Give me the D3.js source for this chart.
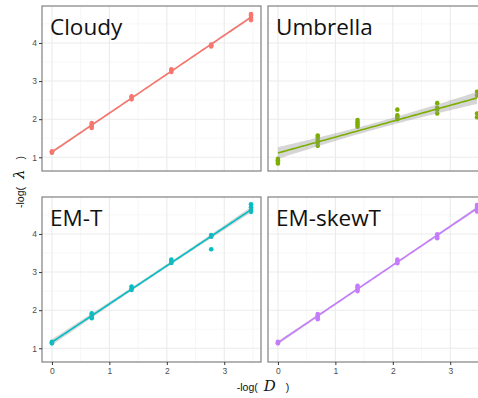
<!DOCTYPE html>
<html>
<head>
<meta charset="utf-8">
<script src="https://cdn.jsdelivr.net/npm/d3@7"></script>
<style>
  body { margin: 0; background: #fff; }
  svg { display: block; }
</style>
</head>
<body>
<svg id="chart" width="478" height="398"></svg>
<script>
// -log(D) positions of the replicate groups
const xLevels = [0, 0.693, 1.386, 2.079, 2.773, 3.466];

const facets = ['Cloudy', 'Umbrella', 'EM-T', 'EM-skewT'];
const colors = ['#F8766D', '#7CAE00', '#00BFC4', '#C77CFF'];

// replicate values of -log(lambda) per x level, one list per facet
const cloudyVals = [
    [1.12, 1.14, 1.16],
    [1.77, 1.82, 1.86, 1.90],
    [2.52, 2.56, 2.60],
    [3.24, 3.28, 3.31],
    [3.91, 3.94, 3.96],
    [4.60, 4.66, 4.72, 4.76]
];
const umbrellaVals = [
    [0.84, 0.88, 0.92, 0.96],
    [1.30, 1.38, 1.45, 1.52, 1.57],
    [1.80, 1.86, 1.92, 1.98],
    [2.00, 2.05, 2.10, 2.25],
    [2.15, 2.25, 2.30, 2.42],
    [2.05, 2.15, 2.62, 2.72]
];
const emtVals = [
    [1.13, 1.15, 1.17],
    [1.79, 1.84, 1.88, 1.92],
    [2.53, 2.57, 2.62],
    [3.24, 3.28, 3.33],
    [3.60, 3.93, 3.95, 3.97],
    [4.58, 4.63, 4.70, 4.78]
];
const emskewVals = [
    [1.13, 1.15, 1.17],
    [1.76, 1.81, 1.86, 1.90],
    [2.50, 2.55, 2.60, 2.64],
    [3.23, 3.28, 3.33],
    [3.89, 3.94, 3.99],
    [4.59, 4.65, 4.71, 4.76]
];
const facetVals = [cloudyVals, umbrellaVals, emtVals, emskewVals];

const xTicks = [0, 1, 2, 3];
const yTicks = [1, 2, 3, 4];

const svg = d3.select('#chart');
const panelW = 219, panelH = 165;
const panelX = [42, 268];
const panelY = [6, 197];

const x = d3.scaleLinear().domain([-0.173, 3.64]).range([0, panelW]);
const y = d3.scaleLinear().domain([0.64, 4.97]).range([panelH, 0]);

// simple least squares fit with 95% band
function fit(points) {
    const n = points.length;
    const mx = d3.mean(points, d => d[0]);
    const my = d3.mean(points, d => d[1]);
    const sxx = d3.sum(points, d => (d[0] - mx) ** 2);
    const sxy = d3.sum(points, d => (d[0] - mx) * (d[1] - my));
    const b = sxy / sxx;
    const a = my - b * mx;
    const sse = d3.sum(points, d => (d[1] - a - b * d[0]) ** 2);
    const s = Math.sqrt(sse / (n - 2));
    const t = 2.07;
    const xs = d3.range(0, 81).map(i => i / 80 * 3.466);
    return xs.map(xv => {
        const yhat = a + b * xv;
        const se = s * Math.sqrt(1 / n + (xv - mx) ** 2 / sxx);
        return { x: xv, y: yhat, lo: yhat - t * se, hi: yhat + t * se };
    });
}

facets.forEach((name, i) => {
    const col = i % 2, row = Math.floor(i / 2);
    const g = svg.append('g').attr('transform', `translate(${panelX[col]},${panelY[row]})`);
    const clipId = 'clip' + i;
    g.append('clipPath').attr('id', clipId)
        .append('rect').attr('width', panelW).attr('height', panelH);

    g.append('rect').attr('width', panelW).attr('height', panelH).attr('fill', '#fff');

    // minor grid
    [0.5, 1.5, 2.5, 3.5].forEach(v => {
        g.append('line').attr('x1', x(v)).attr('x2', x(v)).attr('y1', 0).attr('y2', panelH)
            .attr('stroke', '#f2f2f2').attr('stroke-width', 0.6);
    });
    [1.5, 2.5, 3.5, 4.5].forEach(v => {
        g.append('line').attr('y1', y(v)).attr('y2', y(v)).attr('x1', 0).attr('x2', panelW)
            .attr('stroke', '#f2f2f2').attr('stroke-width', 0.6);
    });
    // major grid
    xTicks.forEach(v => {
        g.append('line').attr('x1', x(v)).attr('x2', x(v)).attr('y1', 0).attr('y2', panelH)
            .attr('stroke', '#ebebeb').attr('stroke-width', 1.1);
    });
    yTicks.forEach(v => {
        g.append('line').attr('y1', y(v)).attr('y2', y(v)).attr('x1', 0).attr('x2', panelW)
            .attr('stroke', '#ebebeb').attr('stroke-width', 1.1);
    });

    const pts = [];
    facetVals[i].forEach((vals, k) => vals.forEach(v => pts.push([xLevels[k], v])));

    const plot = g.append('g').attr('clip-path', `url(#${clipId})`);
    plot.selectAll('circle').data(pts).enter().append('circle')
        .attr('cx', d => x(d[0])).attr('cy', d => y(d[1])).attr('r', 2.3)
        .attr('fill', colors[i]);

    const band = fit(pts);
    plot.append('path').datum(band)
        .attr('d', d3.area().x(d => x(d.x)).y0(d => y(d.lo)).y1(d => y(d.hi)))
        .attr('fill', '#999').attr('opacity', 0.4);
    plot.append('path').datum(band)
        .attr('d', d3.line().x(d => x(d.x)).y(d => y(d.y)))
        .attr('fill', 'none').attr('stroke', colors[i]).attr('stroke-width', 1.6);

    g.append('text').attr('x', 8).attr('y', 29)
        .attr('font-family', '"Open Sans", sans-serif').attr('font-size', 22.5)
        .attr('fill', '#111').text(name);

    g.append('rect').attr('width', panelW).attr('height', panelH)
        .attr('fill', 'none').attr('stroke', '#808080').attr('stroke-width', 1.2);

    if (col === 0) {
        const ya = g.append('g').call(d3.axisLeft(y).tickValues(yTicks)
            .tickFormat(d3.format('d')).tickSize(3).tickPadding(2));
        ya.select('.domain').remove();
        ya.selectAll('line').attr('stroke', '#333');
        ya.selectAll('text').attr('fill', '#4d4d4d').attr('font-size', 8.5)
            .attr('font-family', '"Liberation Sans", Arial, sans-serif');
    }
    if (row === 1) {
        const xa = g.append('g').attr('transform', `translate(0,${panelH})`)
            .call(d3.axisBottom(x).tickValues(xTicks)
                .tickFormat(d3.format('d')).tickSize(3).tickPadding(3));
        xa.select('.domain').remove();
        xa.selectAll('line').attr('stroke', '#333');
        xa.selectAll('text').attr('fill', '#4d4d4d').attr('font-size', 8.5)
            .attr('font-family', '"Liberation Sans", Arial, sans-serif');
    }
});

// axis titles
const xt = svg.append('text').attr('x', 263).attr('y', 391).attr('text-anchor', 'middle')
    .attr('fill', '#111').attr('font-family', '"Liberation Sans", Arial, sans-serif').attr('font-size', 10.5);
xt.append('tspan').text('-log(');
xt.append('tspan').attr('dx', 6).attr('font-family', '"DejaVu Serif", serif')
    .attr('font-style', 'italic').attr('font-size', 15).text('D');
xt.append('tspan').attr('dx', 10).text(')');

const yt = svg.append('text').attr('transform', 'translate(24,182) rotate(-90)').attr('text-anchor', 'middle')
    .attr('fill', '#111').attr('font-family', '"Liberation Sans", Arial, sans-serif').attr('font-size', 10.5);
yt.append('tspan').text('-log(');
yt.append('tspan').attr('dx', 8).attr('font-family', '"DejaVu Serif", serif')
    .attr('font-style', 'italic').attr('font-size', 15).text('λ');
yt.append('tspan').attr('dx', 10).text(')');
</script>
</body>
</html>
